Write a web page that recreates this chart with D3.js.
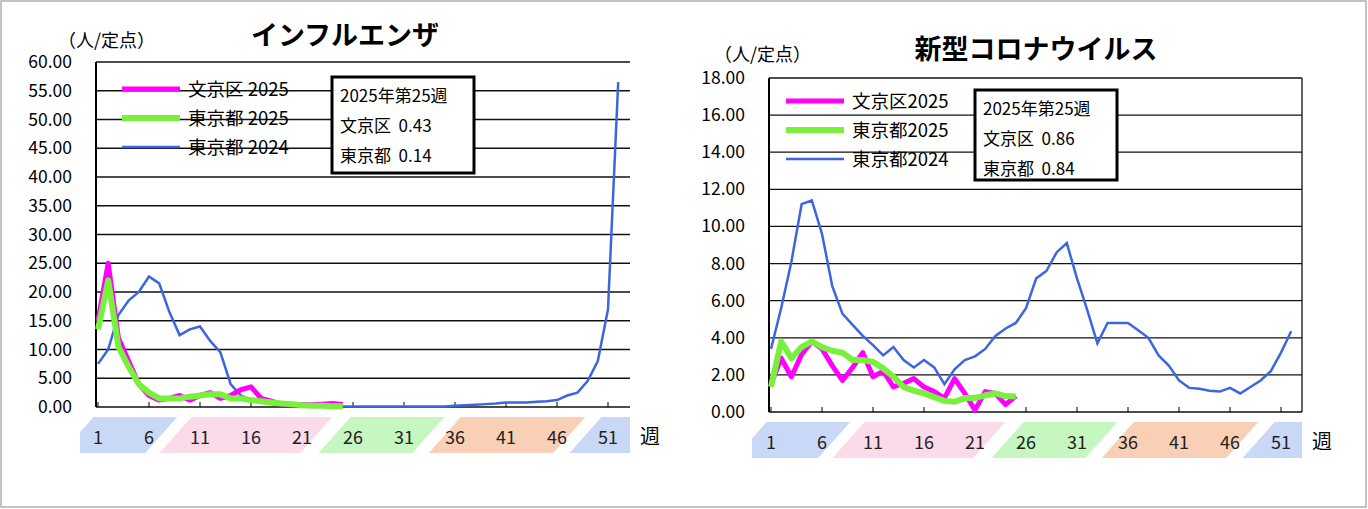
<!DOCTYPE html>
<html><head><meta charset="utf-8">
<script src="https://cdn.jsdelivr.net/npm/d3@7"></script>
<style>body{margin:0;background:#fff}svg text{font-family:"Noto Sans CJK JP","Noto Sans",sans-serif;white-space:pre}</style>
</head><body><svg id="c" width="1368" height="509"></svg>
<script>
const fluBunkyo2025 = [15, 25, 12, 8, 4, 2, 1.2, 1.5, 2, 1.2, 2, 2.5, 1.5, 2, 3, 3.5, 1.5, 1, 0.5, 0.3, 0.4, 0.4, 0.5, 0.6, 0.43];
const fluTokyo2025 = [13.5, 22, 10.5, 7, 4, 2.5, 1.5, 1.5, 1.5, 1.8, 2, 2.2, 2.2, 1.5, 1.5, 1.2, 1, 0.8, 0.6, 0.5, 0.3, 0.2, 0.2, 0.15, 0.14];
const fluTokyo2024 = [7.5, 10, 16, 18.5, 20, 22.7, 21.5, 16.5, 12.5, 13.5, 14, 11.5, 9.5, 4, 2, 1.2, 0.8, 0.5, 0.3, 0.2,
  0.2, 0.2, 0.15, 0.1, 0.1, 0.1, 0.1, 0.1, 0.1, 0.1, 0.1, 0.1, 0.1, 0.1, 0.1, 0.2, 0.3, 0.4, 0.5, 0.6,
  0.8, 0.8, 0.8, 0.9, 1, 1.2, 2, 2.5, 4.5, 8, 17, 56.5];
const covBunkyo2025 = [1.5, 2.9, 1.9, 3.1, 3.8, 3.4, 2.5, 1.7, 2.4, 3.2, 1.9, 2.2, 1.35, 1.55, 1.8, 1.35, 1.1, 0.75, 1.8, 1.0, 0.1, 1.1, 1.0, 0.4, 0.86];
const covTokyo2025 = [1.35, 3.8, 2.9, 3.5, 3.8, 3.5, 3.3, 3.2, 2.8, 2.8, 2.7, 2.35, 1.9, 1.35, 1.15, 1.0, 0.8, 0.6, 0.55, 0.75, 0.75, 0.9, 1.0, 0.86, 0.84];
const covTokyo2024 = [3.4, 5.6, 8.1, 11.2, 11.4, 9.6, 6.8, 5.3, 4.7, 4.1, 3.6, 3.05, 3.5, 2.8, 2.4, 2.8, 2.4, 1.5, 2.3, 2.8,
  3.0, 3.4, 4.1, 4.5, 4.8, 5.6, 7.2, 7.6, 8.6, 9.1, 7.2, 5.5, 3.7, 4.8, 4.8, 4.8, 4.4, 4.0, 3.05, 2.5,
  1.7, 1.3, 1.25, 1.15, 1.1, 1.3, 1.0, 1.35, 1.7, 2.2, 3.2, 4.35];
const weekTicks = [1, 6, 11, 16, 21, 26, 31, 36, 41, 46, 51];
const fluTicks = d3.range(0, 60.01, 5);
const covTicks = d3.range(0, 18.01, 2);
// season bands: [start week, end week, colour]
const seasons = [[-1, 7.2, '#c9d8f6'], [8.6, 22.4, '#fbdbea'], [24.2, 33.4, '#c6f7c0'], [35, 47.2, '#f9d0b6'], [48.8, 57, '#c9d8f6']];

const svg = d3.select('#c');
svg.append('rect').attr('x', 1).attr('y', 1).attr('width', 1365).attr('height', 506)
  .attr('fill', 'none').attr('stroke', '#888');

function drawChart(o) {
  const g = svg.append('g');
  const x = d3.scaleLinear().domain([1, 51]).range([o.x0, o.x0 + 510]);
  const y = d3.scaleLinear().domain([0, o.max]).range([o.y0, o.y1]);
  const right = o.right;
  // bands
  const bandClip = 'clip' + o.id;
  g.append('clipPath').attr('id', bandClip).append('rect')
    .attr('x', o.bandL).attr('y', o.y0 + 10).attr('width', right - o.bandL).attr('height', 36);
  g.append('g').attr('clip-path', `url(#${bandClip})`).selectAll('path').data(seasons).join('path')
    .attr('fill', d => d[2])
    .attr('d', d => {
      const t = o.y0 + 10, b = o.y0 + 46, s = 16;
      return `M${x(d[0]) - s},${b}L${x(d[0]) + s},${t}L${x(d[1]) + s},${t}L${x(d[1]) - s},${b}Z`;
    });
  g.selectAll('.wk').data(weekTicks).join('text')
    .attr('x', d => x(d)).attr('y', o.y0 + 37).attr('text-anchor', 'middle')
    .attr('font-size', 18).attr('fill', '#222').text(d => d);
  g.append('text').attr('x', right + 10).attr('y', o.y0 + 37).attr('font-size', 20).text('週');
  // grid
  g.selectAll('.gr').data(o.ticks).join('line')
    .attr('x1', o.x0 - 2).attr('x2', right).attr('y1', d => y(d)).attr('y2', d => y(d))
    .attr('stroke', '#111').attr('stroke-width', 1.3);
  g.selectAll('.yl').data(o.ticks).join('text')
    .attr('x', o.x0 - 26).attr('y', d => y(d) + 6).attr('text-anchor', 'end')
    .attr('font-size', 17.5).text(d => d.toFixed(2));
  g.append('line').attr('x1', o.x0 - 2).attr('x2', o.x0 - 2).attr('y1', o.y1).attr('y2', o.y0).attr('stroke', '#000').attr('stroke-width', 2);
  if (o.rightBorder) g.append('line').attr('x1', right).attr('x2', right).attr('y1', o.y1).attr('y2', o.y0).attr('stroke', '#111').attr('stroke-width', 1.3);
  g.selectAll('.tk').data(weekTicks).join('line')
    .attr('x1', d => x(d)).attr('x2', d => x(d)).attr('y1', o.y0).attr('y2', o.y0 - 5).attr('stroke', '#000');
  // lines
  const line = d3.line().x((d, i) => x(i + 1)).y(d => y(d));
  g.append('path').datum(o.s24).attr('d', line).attr('fill', 'none').attr('stroke', '#3b66e0').attr('stroke-width', 2.5);
  g.append('path').datum(o.b25).attr('d', line).attr('fill', 'none').attr('stroke', '#ff00ff').attr('stroke-width', 5).attr('stroke-linejoin', 'round');
  g.append('path').datum(o.t25).attr('d', line).attr('fill', 'none').attr('stroke', '#78f03c').attr('stroke-width', 6).attr('stroke-linejoin', 'round');
  // titles
  g.append('text').attr('x', o.unitX).attr('y', o.unitY).attr('font-size', 18).text('（人/定点）');
  g.append('text').attr('x', o.titleX).attr('y', o.titleY).attr('text-anchor', 'middle')
    .attr('font-size', 27).attr('font-weight', 'bold').text(o.title);
  // legend
  const leg = [['#ff00ff', 5, o.names[0]], ['#78f03c', 6, o.names[1]], ['#3b66e0', 2.5, o.names[2]]];
  leg.forEach((d, i) => {
    const ly = o.legY + i * 29;
    g.append('line').attr('x1', o.legX).attr('x2', o.legX + 58).attr('y1', ly).attr('y2', ly).attr('stroke', d[0]).attr('stroke-width', d[1]);
    g.append('text').attr('x', o.legX + 66).attr('y', ly + 7).attr('font-size', 18.5).text(d[2]);
  });
  g.append('rect').attr('x', o.box[0]).attr('y', o.box[1]).attr('width', o.box[2]).attr('height', o.box[3])
    .attr('fill', '#fff').attr('stroke', '#000').attr('stroke-width', 3);
  o.boxText.forEach((t, i) => {
    g.append('text').attr('x', o.box[0] + 8).attr('y', o.box[1] + 25 + i * 30).attr('font-size', 17).text(t);
  });
}

drawChart({id: 'a', x0: 98, y0: 407, y1: 62, max: 60, ticks: fluTicks, right: 630, bandL: 80, rightBorder: false,
  s24: fluTokyo2024, b25: fluBunkyo2025, t25: fluTokyo2025,
  unitX: 58, unitY: 47, titleX: 345, titleY: 45, title: 'インフルエンザ',
  legX: 122, legY: 89, names: ['文京区 2025', '東京都 2025', '東京都 2024'],
  box: [332, 77, 142, 96], boxText: ['2025年第25週', '文京区  0.43', '東京都  0.14']});
drawChart({id: 'b', x0: 771, y0: 412, y1: 78, max: 18, ticks: covTicks, right: 1302, bandL: 752, rightBorder: true,
  s24: covTokyo2024, b25: covBunkyo2025, t25: covTokyo2025,
  unitX: 714, unitY: 61, titleX: 1036, titleY: 59, title: '新型コロナウイルス',
  legX: 786, legY: 101, names: ['文京区2025', '東京都2025', '東京都2024'],
  box: [975, 90, 142, 90], boxText: ['2025年第25週', '文京区  0.86', '東京都  0.84']});
</script></body></html>
